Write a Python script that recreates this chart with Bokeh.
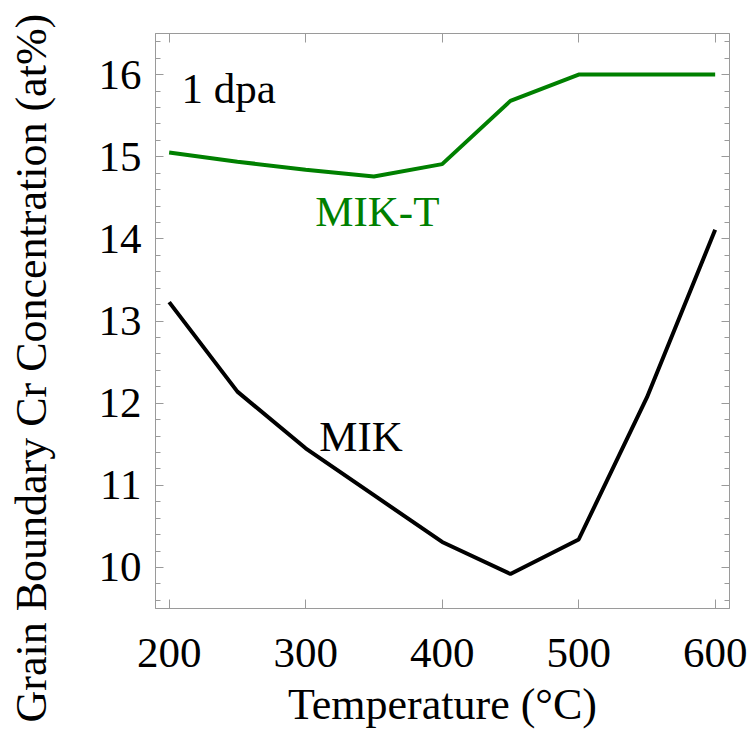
from bokeh.plotting import figure
from bokeh.models import LinearAxis, SingleIntervalTicker, Range1d, Label, CustomJSTickFormatter, Title
from bokeh.embed import file_html
from bokeh.resources import INLINE

temperature = [200, 250, 300, 350, 400, 450, 500, 550, 600]
mik_t = [15.05, 14.94, 14.84, 14.76, 14.91, 15.68, 16.0, 16.0, 16.0]
mik = [13.23, 12.14, 11.45, 10.88, 10.31, 9.92, 10.34, 12.07, 14.11]

x_ticks_interval = 100
y_ticks_interval = 1

FONT = "Liberation Serif"
AX = "#9a9a9a"

p = figure(width=755, height=733, output_backend="svg", toolbar_location=None,
           x_range=Range1d(190, 610.5), y_range=Range1d(9.5, 16.5),
           x_axis_location=None, y_axis_location=None,
           min_border_left=155, min_border_right=26, min_border_top=33, min_border_bottom=125)
p.xgrid.visible = False
p.ygrid.visible = False
p.outline_line_color = AX
p.background_fill_color = "white"
p.border_fill_color = "white"

blank = CustomJSTickFormatter(code="return '';")

def make_x(loc, labels):
    ax = LinearAxis(ticker=SingleIntervalTicker(interval=x_ticks_interval, num_minor_ticks=0))
    ax.axis_line_color = AX
    ax.major_tick_line_color = AX
    ax.major_tick_in = 9
    ax.major_tick_out = 0
    ax.minor_tick_line_color = None
    if labels:
        ax.major_label_text_font = FONT
        ax.major_label_text_font_size = "43px"
        ax.major_label_text_color = "black"
        ax.major_label_standoff = 30
        ax.axis_label = "Temperature (°C)"
        ax.axis_label_text_font = FONT
        ax.axis_label_text_font_size = "44px"
        ax.axis_label_text_font_style = "normal"
        ax.axis_label_text_color = "black"
        ax.axis_label_standoff = 10
    else:
        ax.formatter = blank
    p.add_layout(ax, loc)

def make_y(loc, labels):
    ax = LinearAxis(ticker=SingleIntervalTicker(interval=y_ticks_interval, num_minor_ticks=5))
    ax.axis_line_color = AX
    ax.major_tick_line_color = AX
    ax.minor_tick_line_color = AX
    ax.major_tick_in = 8
    ax.major_tick_out = 0
    ax.minor_tick_in = 5
    ax.minor_tick_out = 0
    if labels:
        ax.major_label_text_font = FONT
        ax.major_label_text_font_size = "43px"
        ax.major_label_text_color = "black"
        ax.major_label_standoff = 14
    else:
        ax.formatter = blank
    p.add_layout(ax, loc)

make_x("below", True)
make_x("above", False)
make_y("left", True)
make_y("right", False)

# a blank second line pushes the visible title line further from the tick labels
ytitle = Title(text="Grain Boundary Cr Concentration (at%)\n\u00a0", align="left", offset=-114,
               vertical_align="bottom", standoff=6, text_line_height=0.75,
               text_font=FONT, text_font_size="44px", text_font_style="normal",
               text_color="black")
p.add_layout(ytitle, "left")

p.line(temperature, mik_t, line_color="#008000", line_width=4)
p.line(temperature, mik, line_color="black", line_width=4)

p.add_layout(Label(x=209, y=15.83, text="1 dpa", text_font=FONT, text_font_size="43px",
                   text_color="black", text_baseline="alphabetic"))
p.add_layout(Label(x=307, y=14.33, text="MIK-T", text_font=FONT, text_font_size="43px",
                   text_color="#008000", text_baseline="alphabetic"))
p.add_layout(Label(x=310, y=11.60, text="MIK", text_font=FONT, text_font_size="43px",
                   text_color="black", text_baseline="alphabetic"))

open("out.html", "w").write(file_html(p, INLINE))
